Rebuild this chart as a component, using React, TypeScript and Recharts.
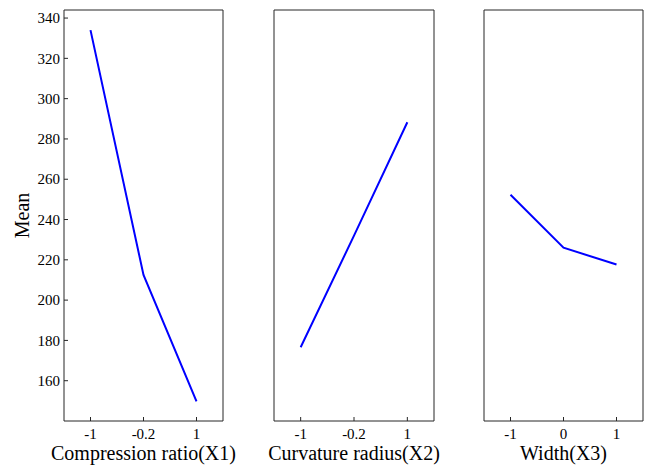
import { LineChart, Line, XAxis, YAxis } from 'recharts';

// main effects plot: three factors, shared y scale
const x1Levels = ['-1', '-0.2', '1'];
const x1Means = [334, 212.5, 149.7];

const x2Levels = ['-1', '-0.2', '1'];
const x2Means = [176.6, 232, 288.3];

const x3Levels = ['-1', '0', '1'];
const x3Means = [252.3, 226, 217.7];

const yTicks = [160, 180, 200, 220, 240, 260, 280, 300, 320, 340];
const yDomain: [number, number] = [140, 344];

const FONT = '"Liberation Serif", "Times New Roman", serif';
const AXIS_COLOR = '#262626';

const PLOT_TOP = 10;
const PLOT_BOTTOM = 421;
const HEIGHT = 467;
const SIDE = 30; // extra room so wide axis titles are not clipped

const BottomTick = (props: any) => (
    <text x={props.x} y={props.y} dy="0.71em" textAnchor="middle" fontFamily={FONT} fontSize={15} fill="#000">
        {props.payload.value}
    </text>
);

const LeftTick = (props: any) => (
    <text x={props.x} y={props.y} dy="0.35em" textAnchor="end" fontFamily={FONT} fontSize={15} fill="#000">
        {props.payload.value}
    </text>
);

interface PanelProps {
    levels: string[];
    means: number[];
    title: string;
    plotLeft: number;
    plotRight: number;
    showY?: boolean;
}

function Panel({ levels, means, title, plotLeft, plotRight, showY = false }: PanelProps) {
    const data = levels.map((level, i) => ({ level, mean: means[i] }));
    const leftW = showY ? 64 : 1;
    const rightW = 1;
    const topH = 1;
    const bottomH = HEIGHT - PLOT_BOTTOM;
    const plotW = plotRight - plotLeft;
    const pad = plotW / 6;
    const leftM = showY ? 0 : SIDE;

    return (
        <div style={{ position: 'absolute', left: plotLeft - leftW - leftM, top: 0 }}>
            <LineChart
                width={leftM + leftW + plotW + rightW + SIDE}
                height={HEIGHT}
                data={data}
                margin={{ top: PLOT_TOP - topH, right: SIDE, bottom: 0, left: leftM }}
            >
                <XAxis
                    dataKey="level"
                    height={bottomH}
                    padding={{ left: pad, right: pad }}
                    stroke={AXIS_COLOR}
                    tickSize={-4}
                    tickMargin={11}
                    tick={<BottomTick />}
                    interval={0}
                    label={({ viewBox }: any) => (
                        <text
                            x={viewBox.x + viewBox.width / 2}
                            y={viewBox.y + 39}
                            textAnchor="middle"
                            fontFamily={FONT}
                            fontSize={20}
                            fill="#000"
                        >
                            {title}
                        </text>
                    )}
                />
                <XAxis
                    xAxisId="top"
                    orientation="top"
                    dataKey="level"
                    height={topH}
                    padding={{ left: pad, right: pad }}
                    stroke={AXIS_COLOR}
                    tickSize={-4}
                    tick={false}
                    interval={0}
                />
                <YAxis
                    width={leftW}
                    domain={yDomain}
                    ticks={yTicks}
                    type="number"
                    allowDataOverflow
                    stroke={AXIS_COLOR}
                    tickSize={-4}
                    tickMargin={8}
                    tick={showY ? <LeftTick /> : false}
                    label={
                        showY
                            ? ({ viewBox }: any) => {
                                  const cx = viewBox.x + 22;
                                  const cy = viewBox.y + viewBox.height / 2;
                                  return (
                                      <text
                                          x={cx}
                                          y={cy}
                                          transform={`rotate(-90 ${cx} ${cy})`}
                                          textAnchor="middle"
                                          dominantBaseline="central"
                                          fontFamily={FONT}
                                          fontSize={20}
                                          fill="#000"
                                      >
                                          Mean
                                      </text>
                                  );
                              }
                            : undefined
                    }
                />
                <YAxis
                    yAxisId="right"
                    orientation="right"
                    width={rightW}
                    domain={yDomain}
                    ticks={yTicks}
                    type="number"
                    allowDataOverflow
                    stroke={AXIS_COLOR}
                    tickSize={-4}
                    tick={false}
                />
                <Line
                    type="linear"
                    dataKey="mean"
                    stroke="#0000ff"
                    strokeWidth={2}
                    dot={false}
                    activeDot={false}
                    isAnimationActive={false}
                />
            </LineChart>
        </div>
    );
}

export default function App() {
    return (
        <div
            style={{
                position: 'absolute',
                left: 0,
                top: 0,
                width: 648,
                height: HEIGHT,
                background: '#fff',
                overflow: 'hidden',
            }}
        >
            <Panel levels={x1Levels} means={x1Means} title="Compression ratio(X1)" plotLeft={64} plotRight={223} showY />
            <Panel levels={x2Levels} means={x2Means} title="Curvature radius(X2)" plotLeft={274} plotRight={434} />
            <Panel levels={x3Levels} means={x3Means} title="Width(X3)" plotLeft={484} plotRight={643} />
        </div>
    );
}
